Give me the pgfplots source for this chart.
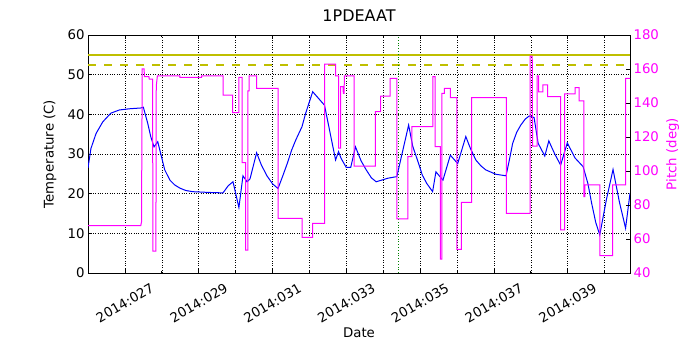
\documentclass[border=0pt]{standalone}
\usepackage{fontspec}
\setmainfont{DejaVu Sans}
\usepackage{pgfplots}
\usepackage{pgfplotstable}
\pgfplotsset{compat=1.18}

\definecolor{mplblue}{rgb}{0,0,1}
\definecolor{mplmag}{rgb}{1,0,1}
\definecolor{mplyel}{rgb}{0.75,0.75,0}
\definecolor{mplgreen}{rgb}{0,0.5,0}

% temperature (C) vs day of year
\pgfplotstableread{
day temp
26.00 26.5
26.08 31.4
26.22 35.2
26.40 38.1
26.62 40.3
26.85 41.1
27.12 41.4
27.43 41.6
27.50 41.8
27.62 37.7
27.70 34.4
27.79 31.8
27.89 33.1
27.96 30.5
28.08 26.0
28.22 23.4
28.35 22.2
28.49 21.4
28.65 20.8
28.84 20.5
29.30 20.3
29.66 20.2
29.80 22.0
29.93 23.0
30.09 16.5
30.20 24.5
30.31 23.0
30.39 23.7
30.57 30.3
30.70 27.2
30.85 24.5
31.00 22.5
31.15 21.3
31.28 24.5
31.40 27.6
31.52 31.0
31.63 33.5
31.80 36.9
31.90 40.3
32.09 45.7
32.41 42.3
32.71 28.5
32.79 30.6
32.86 28.9
33.00 26.6
33.12 26.6
33.25 31.8
33.40 28.3
33.54 26.0
33.68 24.0
33.81 23.0
34.13 23.9
34.37 24.3
34.69 37.3
34.80 32.0
34.96 27.6
35.06 24.7
35.18 22.6
35.34 20.5
35.43 25.5
35.62 23.4
35.82 29.7
36.02 27.6
36.24 34.4
36.36 31.5
36.51 28.5
36.65 27.0
36.78 26.0
37.05 24.9
37.33 24.5
37.42 28.5
37.51 32.7
37.62 35.5
37.73 37.3
37.85 38.8
37.96 39.6
38.09 39.2
38.20 32.7
38.38 29.5
38.49 33.3
38.65 30.0
38.81 27.2
38.99 32.8
39.20 29.0
39.42 26.8
39.55 22.5
39.65 17.6
39.76 12.8
39.87 9.6
40.05 18.5
40.23 26.1
40.40 18.0
40.57 11.3
40.69 20.1
}\temptable

% pitch (deg), stepwise
\pgfplotstableread{
day pitch
26.00 67.8
27.43 67.8
27.45 70.0
27.47 160.0
27.52 160.0
27.53 155.5
27.65 155.5
27.66 154.1
27.75 154.1
27.76 52.9
27.84 52.9
27.85 150.0
27.88 155.9
28.49 155.9
28.49 155.1
29.08 155.1
29.08 155.9
29.66 155.9
29.66 144.7
29.92 144.7
29.92 134.3
30.09 134.3
30.09 155.0
30.18 155.0
30.18 104.9
30.27 104.9
30.27 53.5
30.33 53.5
30.33 147.1
30.37 147.1
30.37 155.9
30.57 155.9
30.57 148.6
31.15 148.6
31.15 72.2
31.80 72.2
31.80 61.0
32.09 61.0
32.09 69.2
32.41 69.2
32.41 162.8
32.71 162.8
32.71 155.9
32.79 155.9
32.79 113.4
32.85 113.4
32.85 149.6
32.91 149.6
32.92 145.7
32.94 145.7
32.95 155.9
33.21 155.9
33.21 102.9
33.79 102.9
33.79 134.9
33.93 134.9
33.93 144.1
34.19 144.1
34.19 154.5
34.37 154.5
34.37 71.8
34.67 71.8
34.67 108.4
34.78 108.4
34.78 126.1
35.35 126.1
35.35 155.5
35.41 155.5
35.41 114.3
35.55 114.3
35.55 48.1
35.59 48.1
35.59 145.7
35.66 145.7
35.66 148.6
35.82 148.6
35.82 143.1
36.00 143.1
36.00 53.9
36.12 53.9
36.12 81.6
36.40 81.6
36.40 143.1
37.34 143.1
37.34 75.1
37.98 75.1
37.98 167.6
38.04 167.6
38.05 114.7
38.17 114.7
38.17 155.9
38.21 155.9
38.21 146.6
38.33 146.6
38.33 150.6
38.46 150.6
38.46 143.7
38.81 143.7
38.81 65.3
38.92 65.3
38.92 145.3
39.20 145.3
39.20 149.0
39.31 149.0
39.31 141.2
39.44 141.2
39.44 84.9
39.47 84.9
39.47 91.8
39.87 91.8
39.87 50.2
40.22 50.2
40.22 91.8
40.57 91.8
40.57 154.5
40.69 154.5
}\pitchtable

\pgfplotsset{
  common/.style={
    at={(88pt,77pt)}, anchor=south west,
    width=542pt, height=238pt, scale only axis,
    xmin=26, xmax=40.69,
    tick align=inside,
    major tick length=4pt, minor tick length=2pt,
    axis line style={line width=0.8pt},
    tick style={black, line width=0.6pt},
    tick label style={font=\fontsize{13.3}{16}\selectfont},
    label style={font=\fontsize{13.3}{16}\selectfont},
    /pgf/number format/assume math mode=true,
  },
}

\begin{document}
\begin{tikzpicture}
\useasboundingbox (0,0) rectangle (700pt,350pt);

\begin{axis}[
  common,
  ymin=0, ymax=60,
  ytick={0,10,...,60},
  ytick pos=left,
  xtick={27,29,...,39},
  xticklabels={2014:027,2014:029,2014:031,2014:033,2014:035,2014:037,2014:039},
  minor xtick={26,28,...,40},
  xmajorgrids, xminorgrids, ymajorgrids,
  grid style={black, dotted, line width=0.5pt},
  minor grid style={black, dotted, line width=0.5pt},
  xticklabel style={yshift=-30pt, rotate=30, anchor=center},
  title={1PDEAAT},
  title style={at={(axis description cs:0.5,1.055)}, anchor=center, font=\fontsize{16}{19}\selectfont},
  xlabel={Date},
  xlabel style={at={(axis description cs:0.5,-0.252)}, anchor=center},
  ylabel={Temperature (C)},
  ylabel style={at={(axis description cs:-0.070,0.5)}, anchor=center},
]
\addplot [mplyel, line width=2.2pt] coordinates {(26,55) (40.69,55)};
\addplot [mplyel, line width=2.2pt, dash pattern=on 8pt off 8pt] coordinates {(26,52.5) (40.69,52.5)};
\addplot [mplgreen, dotted, line width=0.8pt] coordinates {(34.40,0) (34.40,60)};
\addplot [mplblue, line width=1pt] table [x=day, y=temp] {\temptable};
\end{axis}

\begin{axis}[
  common,
  ymin=40, ymax=180,
  ytick={40,60,...,180},
  axis x line=none,
  axis y line*=right,
  yticklabel style={text=mplmag},
  ylabel={Pitch (deg)},
  ylabel style={text=mplmag, at={(axis description cs:1.079,0.5)}, anchor=center},
]
\addplot [mplmag, line width=1pt] table [x=day, y=pitch] {\pitchtable};
\end{axis}
\end{tikzpicture}
\end{document}
